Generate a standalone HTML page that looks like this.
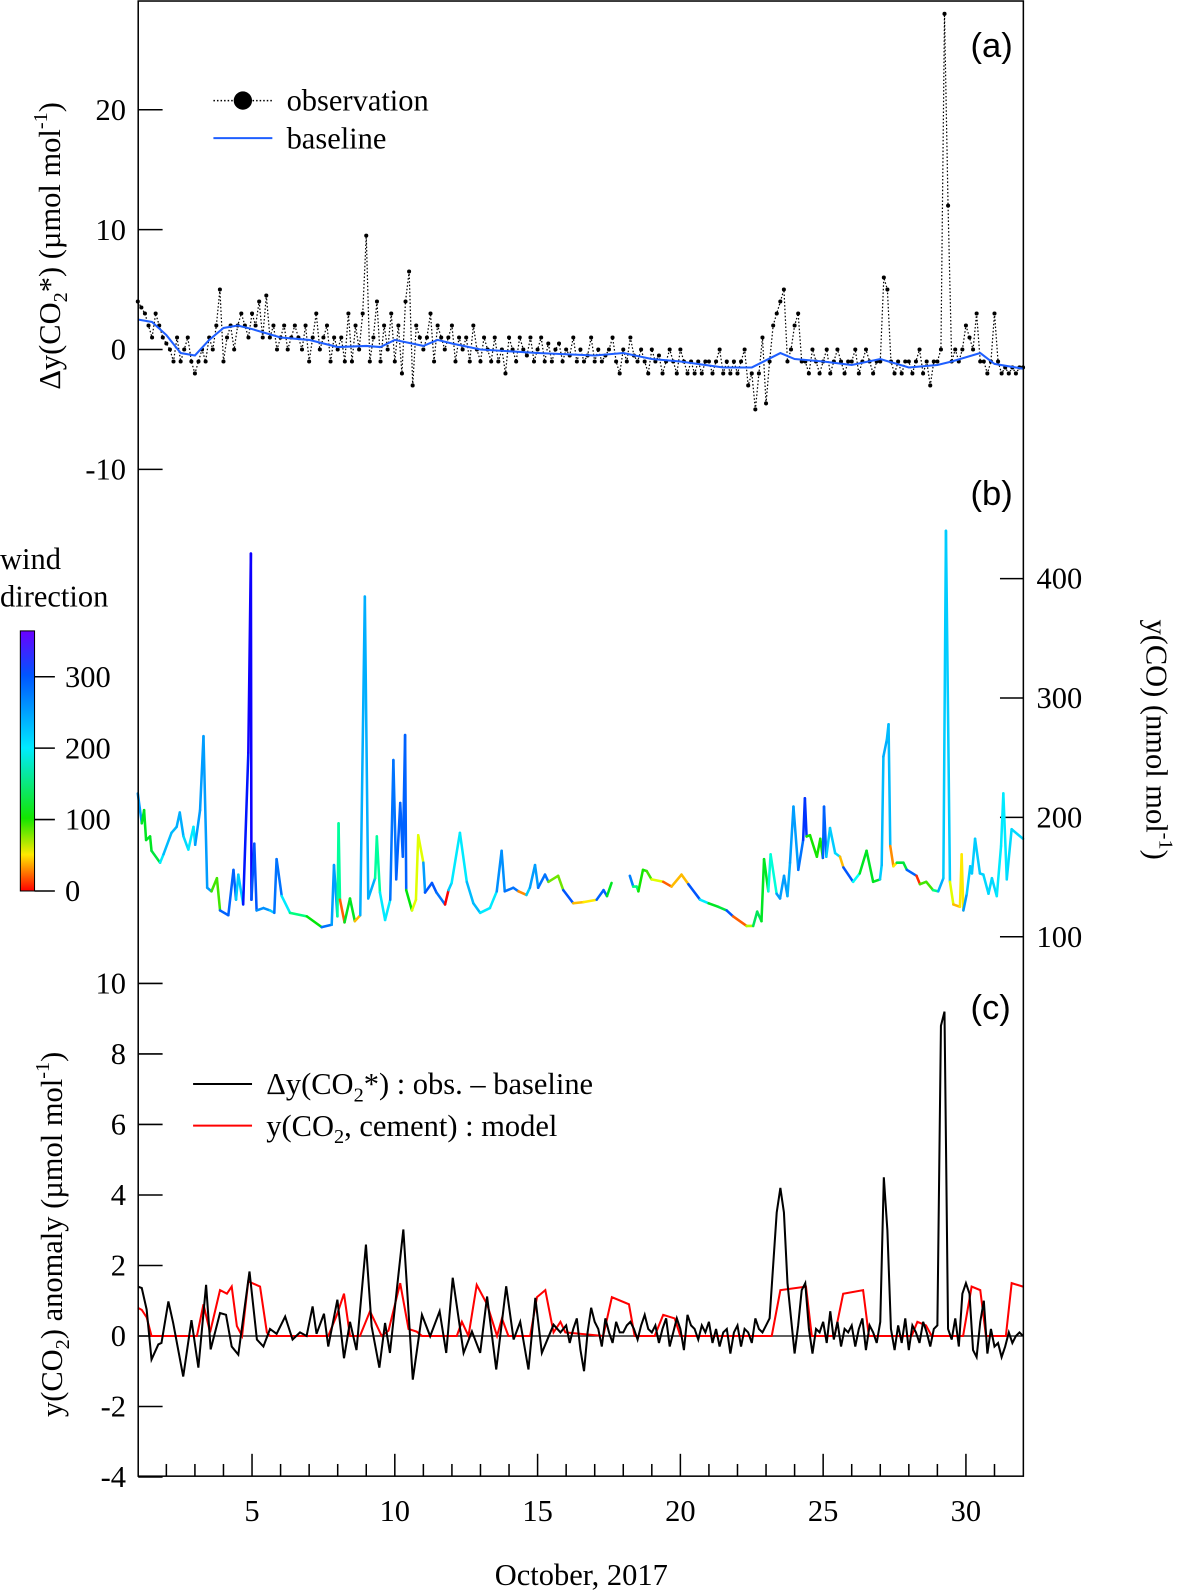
<!DOCTYPE html>
<html><head><meta charset="utf-8">
<style>
body{margin:0;background:#fff;}
svg{display:block;}
.t{font-family:"Liberation Serif",serif;font-size:30px;fill:#000;}
.s{font-family:"Liberation Sans",sans-serif;font-size:34px;fill:#000;}
</style></head>
<body>
<svg id="chart" width="1189" height="1593" viewBox="0 0 1170 1568" preserveAspectRatio="none" xmlns="http://www.w3.org/2000/svg">
<defs>
<linearGradient id="cbar" x1="0" y1="1" x2="0" y2="0">
<stop offset="0" stop-color="hsl(0,100%,50%)"/><stop offset="0.14" stop-color="hsl(55,100%,50%)"/>
<stop offset="0.28" stop-color="hsl(115,100%,45%)"/><stop offset="0.55" stop-color="hsl(185,100%,50%)"/>
<stop offset="0.83" stop-color="hsl(220,100%,50%)"/><stop offset="1" stop-color="hsl(265,100%,50%)"/>
</linearGradient>
</defs>
<g id="axes"></g>
<g id="marks"></g>
<rect x="136" y="1" width="871" height="1452" fill="none" stroke="#000" stroke-width="1.5"/>
<text class="s" x="955" y="56">(a)</text>
<text class="s" x="955" y="497">(b)</text>
<text class="s" x="955" y="1003">(c)</text>
<g>
<line x1="210" y1="99" x2="268" y2="99" stroke="#000" stroke-dasharray="1.5,2" stroke-width="1.5"/>
<circle cx="239" cy="99" r="9" fill="#000"/>
<text class="t" x="282" y="109">observation</text>
<line x1="210" y1="136" x2="268" y2="136" stroke="#1f5fff" stroke-width="2"/>
<text class="t" x="282" y="146">baseline</text>
</g>
<g>
<line x1="190" y1="1067" x2="248" y2="1067" stroke="#000" stroke-width="2"/>
<text class="t" x="262" y="1077">Δy(CO<tspan font-size="20" dy="7">2</tspan><tspan dy="-7">*) : obs. – baseline</tspan></text>
<line x1="190" y1="1108" x2="248" y2="1108" stroke="#f00" stroke-width="2"/>
<text class="t" x="262" y="1118">y(CO<tspan font-size="20" dy="7">2</tspan><tspan dy="-7">, cement) : model</tspan></text>
</g>
<text class="t" x="0" y="0" transform="translate(59,242) rotate(-90)" text-anchor="middle">Δy(CO<tspan font-size="20" dy="7">2</tspan><tspan dy="-7">*)  (µmol mol</tspan><tspan font-size="20" dy="-13">-1</tspan><tspan dy="13">)</tspan></text>
<text class="t" x="0" y="0" transform="translate(61,1215) rotate(-90)" text-anchor="middle">y(CO<tspan font-size="20" dy="7">2</tspan><tspan dy="-7">) anomaly  (µmol mol</tspan><tspan font-size="20" dy="-13">-1</tspan><tspan dy="13">)</tspan></text>
<text class="t" x="0" y="0" transform="translate(1128,728) rotate(90)" text-anchor="middle">y(CO)  (nmol mol<tspan font-size="20" dy="-13">-1</tspan><tspan dy="13">)</tspan></text>
<text class="t" x="572" y="1560" text-anchor="middle">October, 2017</text>
<text class="t" x="0" y="560">wind</text>
<text class="t" x="0" y="597">direction</text>
<rect x="20" y="621" width="14" height="256" fill="url(#cbar)" stroke="#000" stroke-width="1"/>
</svg>
<script>
// ---- data ----
const obsStart = 1, obsStep = 0.125;
const obsVals = [
 4,3.5,3,2,1,3,2,1, 0.5,0,-1,1,-1,0,1,-1, -2,-1,0,-1,1,0,2,5, -1,1,2,0,2,3,2,1,
 3,2,4,1,4.5,1,2,0, 1,2,0,1,2,1,0,2, -1,1,3,0,1,2,-1,1, 0,1,-1,3,-1,2,0,3,
 9.5,-1,1,4,-1,2,0,3, -1,2,-2,4,6.5,-3,2,1, 0,1,3,-1,2,1,0,1, 2,-1,1,0,1,-1,2,0,
 -1,1,0,-1,1,-1,0,-2, 1,0,-1,1,0,-0.5,1,-1, 0,1,-1,0.5,-1,0,0.5,-1, 0,-0.5,1,-1,0,-1,-0.5,1,
 -1,0,-1,-0.5,0,1,-1,-2, 0,-1,1,-0.5,-1,0,-1,-2, 0,-1,-0.5,-2,-1,0,-1,-2, 0,-1,-2,-1,-2,-1,-2,-1,
 -1,-2,-1,0,-2,-1,-2,-1, -2,-1,0,-3,-2,-5,-2,1, -4.5,-1,2,3,4,5,-1,0, 2,3,-1,-1,-2,0,-1,-2,
 -1,0,-2,-1,0,-1,-2,-1, -1,0,-2,-1,0,-1,-2,-1, -1,6,5,-1,-2,-1,-2,-1, -1,-2,-1,0,-2,-1,-3,-1,
 -1,0,28,12,-1,0,-1,0, 2,1,0,3,-1,-1,-2,-1, 3,-1,-2,-1.5,-2,-1.5,-2,-1.5, -1.5];
const baseDays = [1,1.5,2,2.5,3,3.5,4,4.5,5,6,7,8,9,9.5,10,11,11.5,12,13,15,17,18,19,20,21.5,22.5,23.5,24,25,26,27,28,29,29.5,30.5,31,32];
const baseVals = [2.5,2.3,1.2,-0.3,-0.5,0.8,1.8,2,1.7,1,0.8,0.2,0.3,0.2,0.8,0.3,0.8,0.5,0,-0.3,-0.5,-0.3,-0.8,-1,-1.5,-1.5,-0.3,-0.8,-1,-1.3,-0.8,-1.5,-1.3,-1,-0.3,-1.2,-1.6];
const coDays = [1.0,1.14,1.22,1.29,1.43,1.48,1.78,1.90,2.18,2.36,2.47,2.60,2.77,2.95,3.01,3.18,3.30,3.43,3.58,3.77,3.88,4.17,4.35,4.44,4.52,4.69,4.87,4.96,4.98,5.08,5.16,5.40,5.63,5.78,5.86,6.04,6.33,6.92,7.44,7.79,7.87,7.99,8.03,8.08,8.24,8.43,8.60,8.79,8.95,9.07,9.31,9.37,9.48,9.66,9.84,9.95,10.05,10.19,10.28,10.36,10.40,10.60,10.74,10.82,11.00,11.06,11.30,11.46,11.76,11.88,11.99,12.28,12.52,12.75,12.99,13.33,13.57,13.74,13.85,14.15,14.33,14.61,14.73,14.91,15.02,15.26,15.38,15.72,15.90,16.25,16.61,17.07,17.31,17.43,17.59];
const coVals = [220,195,206,181,184,172,162,169,187,192,204,184,173,192,177,206,268,141,138,149,122,118,156,131,152,127,254,421,131,178,122,124,122,120,165,134,120,117,108,110,160,117,195,131,112,132,113,118,385,132,149,184,137,114,131,248,148,212,167,269,139,122,131,185,162,137,145,137,127,139,145,187,146,128,120,124,138,172,138,141,138,135,141,160,141,152,146,151,139,128,129,131,139,134,145];
const coWd = [250,250,120,120,120,130,140,200,230,230,240,210,220,200,210,250,250,250,30,90,290,290,290,220,220,280,320,330,320,300,280,260,220,40,280,200,150,110,100,280,250,280,160,20,270,120,120,40,240,250,240,160,200,100,200,280,270,290,330,290,110,120,60,60,250,110,300,280,280,0,220,200,230,230,70,200,200,260,30,280,30,160,220,250,260,280,60,80,300,20,40,50,290,220,120];
const coDays2 = [18.23,18.35,18.47,18.53,18.69,18.82,18.99,19.40,19.69,20.04,20.28,20.69,20.99,21.33,21.62,21.85,22.32,22.55,22.69,22.84,22.93,23.08,23.16,23.37,23.49,23.63,23.75,23.84,23.96,24.13,24.30,24.36,24.42,24.54,24.78,24.90,24.99,25.03,25.11,25.24,25.42,25.59,25.71,26.05,26.28,26.52,26.75,26.99,27.05,27.11,27.23,27.29,27.35,27.46,27.58,27.81,27.93,28.27,28.39,28.61,28.85,29.03,29.21,29.3,29.44,29.56,29.79,29.85,29.91,30.03,30.15,30.21,30.32,30.49,30.61,30.79,30.91,31.08,31.23,31.31,31.43,31.6,32];
const coVals2 = [151,142,142,138,156,155,148,146,142,152,144,131,128,125,122,117,109,109,121,113,165,138,169,136,132,151,134,162,209,156,181,216,184,185,167,182,166,209,167,191,170,167,158,146,153,172,146,148,160,251,265,278,176,159,162,162,156,151,144,146,139,138,149,440,146,127,125,169,122,136,159,153,182,153,152,136,149,134,176,220,148,190,182];
const coWd2 = [270,280,150,100,100,90,60,20,320,40,300,200,120,130,300,20,60,70,140,120,120,100,180,250,290,250,290,240,250,250,280,310,90,100,120,100,200,290,230,220,210,40,300,290,190,120,110,120,220,230,240,230,30,10,50,130,290,10,100,90,150,200,240,220,60,40,30,50,270,250,220,220,220,220,210,210,210,230,200,200,220,210,210];
const anomDays = [1.0,1.14,1.31,1.48,1.72,1.83,2.07,2.24,2.59,2.88,3.12,3.39,3.55,3.88,4.09,4.29,4.52,4.91,5.17,5.40,5.63,5.86,6.16,6.42,6.68,6.91,7.12,7.26,7.52,7.67,7.99,8.22,8.43,8.66,8.99,9.19,9.46,9.66,9.83,10.30,10.63,10.95,11.24,11.57,11.80,12.03,12.41,12.70,12.99,13.23,13.55,13.90,14.16,14.39,14.68,14.92,15.15,15.56,15.8];
const anomVals = [1.4,1.36,0.75,-0.67,-0.24,-0.2,0.98,0.37,-1.15,0.45,-0.9,1.45,-0.38,0.65,0.6,-0.3,-0.53,1.83,-0.1,-0.3,0.2,0.06,0.55,-0.1,0.1,0,0.84,0.06,0.63,-0.3,1.03,-0.63,0.4,-0.4,2.59,0.27,-0.9,0.37,-0.48,3.02,-1.24,0.6,-0.01,0.7,-0.48,1.65,-0.48,0.13,-0.48,1.12,-0.95,1.41,-0.1,0.4,-0.95,1.08,-0.48,0.32,0.1];
const anom2Start = 16, anom2Step = 0.125;
const anom2Vals = [
 0.3,-0.2,0.2,0.5,-0.4,-1,0.1,0.8, 0.4,0.2,-0.3,0.5,0.1,-0.2,0.4,0.1, 0.1,0.3,0.4,0.2,-0.1,0.3,0.6,0.2,
 0.1,0.3,-0.2,0.2,0.5,-0.3,0.1,0.5, 0.2,-0.4,0.6,0.3,0.2,-0.1,0.3,0.1, 0.4,-0.2,0.2,-0.3,0.1,0.2,-0.5,0.1,
 0.3,-0.3,0.2,0.1,-0.2,0.5,0.2,0.1, 0.3,0.5,2,3.5,4.2,3.5,1.5,0.5, -0.5,0.3,1.3,1.5,0.2,-0.5,0.2,0.1,
 0.4,-0.2,0.7,-0.1,0.4,-0.3,0.2,0.1, 0.3,-0.3,0.2,0.5,-0.4,0.3,0.1,-0.2, 0.4,4.5,3,0.2,-0.4,0.3,-0.2,0.5,
 -0.4,0.3,0.1,-0.2,0.4,0.1,-0.3,0.2, 0.3,8.8,9.2,0.2,-0.1,0.5,-0.3,1.2, 1.5,1.2,-0.4,-0.6,0.4,1,-0.5,0.2,
 -0.3,-0.2,-0.6,-0.3,0.1,-0.2,0,0.1, 0];
const cementDays = [1,1.14,1.31,1.48,3.07,3.30,3.53,3.88,4.12,4.29,4.47,4.65,4.87,5.28,5.52,5.63,7.67,7.97,8.22,8.43,8.78,9.13,9.54,9.78,10.19,10.48,10.77,10.95,12.17,12.35,12.58,12.87,13.23,13.58,13.75,13.98,14.74,14.98,15.27,15.56,15.8,15.97,17.3,17.6,18.2,18.4,19.1,19.4,19.8,20,23.2,23.5,24.4,24.6,25.4,25.7,26.4,26.6,28.1,28.3,28.6,28.8,29.9,30.2,30.5,30.7,31.4,31.6,32];
const cementVals = [0.8,0.74,0.53,0,0,0.9,0.1,1.3,1.2,1.4,0.28,0,1.55,1.4,0.1,0,0,0.6,1.2,0,0,0.7,0,0.15,1.5,0.2,0.12,0,0,0.4,0,1.45,0.9,0,0.5,0,0,1.1,1.3,0.1,0.4,0.1,0,1.1,0.9,0,0,0.6,0.5,0,0,1.3,1.4,0,0,1.2,1.3,0,0,0.4,0.3,0,0,1.4,1.3,0,0,1.5,1.4];
const xTicks = [5,10,15,20,25,30];
const aTicks = [20,10,0,-10];
const bTicks = [400,300,200,100];
const cTicks = [10,8,6,4,2,0,-2,-4];
const cbTicks = [300,200,100,0];

// ---- scales ----
const X = d => 248 + (d - 5) * 28.1;
const YA = v => 344 - 11.8 * v;
const YB = v => 922 - 1.175 * (v - 100);
const YC = v => 1315 - 34.7 * v;
const YCB = v => 877 - 0.703 * v;
const NS = 'http://www.w3.org/2000/svg';
const axes = document.getElementById('axes'), marks = document.getElementById('marks');
function mk(tag, attrs, parent) { const e = document.createElementNS(NS, tag); for (const k in attrs) e.setAttribute(k, attrs[k]); parent.appendChild(e); return e; }
function txt(x, y, s, anchor, parent) { const e = mk('text', {x: x, y: y, 'text-anchor': anchor, class: 't'}, parent); e.textContent = s; return e; }

for (let d = 2; d <= 31; d++) {
  const major = xTicks.includes(d);
  const t = mk('line', {x1: X(d), x2: X(d), y1: 1453, y2: 1453 - (major ? 22 : 12), stroke: '#000', 'stroke-width': 1.5}, axes);
  
  
}
xTicks.forEach(d => { const l = txt(X(d), 1497, String(d), 'middle', axes);
  
   });
aTicks.forEach(v => { mk('line', {x1: 136, x2: 160, y1: YA(v), y2: YA(v), stroke: '#000', 'stroke-width': 1.5}, axes);
  const l = txt(124, YA(v) + 10, String(v), 'end', axes);
  
   });
bTicks.forEach(v => { mk('line', {x1: 984, x2: 1007, y1: YB(v), y2: YB(v), stroke: '#000', 'stroke-width': 1.5}, axes);
  const l = txt(1020, YB(v) + 10, String(v), 'start', axes);
  
   });
cTicks.forEach(v => { mk('line', {x1: 136, x2: 160, y1: YC(v), y2: YC(v), stroke: '#000', 'stroke-width': 1.5}, axes);
  const l = txt(124, YC(v) + 10, String(v), 'end', axes);
  
   });
cbTicks.forEach(v => { mk('line', {x1: 34, x2: 54, y1: YCB(v), y2: YCB(v), stroke: '#000', 'stroke-width': 1.5}, axes);
  const l = txt(64, YCB(v) + 10, String(v), 'start', axes);
  
   });
const zl = mk('line', {x1: 136, x2: 1007, y1: YC(0), y2: YC(0), stroke: '#000', 'stroke-width': 1.2}, axes);



function pts(days, vals, Y) { return vals.map((v, i) => X(days[i]).toFixed(1) + ',' + Y(v).toFixed(1)).join(' '); }
// panel a
const obsDays = obsVals.map((v, i) => obsStart + i * obsStep);
const ol = mk('polyline', {points: pts(obsDays, obsVals, YA), fill: 'none', stroke: '#000', 'stroke-width': 1.2, 'stroke-dasharray': '1.5,2'}, marks);


obsVals.forEach((v, i) => { const c = mk('circle', {cx: X(obsDays[i]), cy: YA(v), r: 2, fill: '#000'}, marks);
  
   });
const bl = mk('polyline', {points: pts(baseDays, baseVals, YA), fill: 'none', stroke: '#1f5fff', 'stroke-width': 2}, marks);


// panel b
const hueStops = [[0,0],[50,55],[100,115],[200,185],[300,220],[360,265]];
function wdColor(w) {
  let h = 265;
  for (let i = 0; i < hueStops.length - 1; i++) {
    const a = hueStops[i], b = hueStops[i + 1];
    if (w >= a[0] && w <= b[0]) { h = a[1] + (b[1] - a[1]) * (w - a[0]) / (b[0] - a[0]); break; }
  }
  return 'hsl(' + h.toFixed(0) + ',100%,' + (h > 90 && h < 150 ? 45 : 50) + '%)';
}
function coSeg(days, vals, wd) {
  for (let i = 0; i < vals.length - 1; i++) {
    const k = vals[i] > vals[i + 1] ? i : i + 1;
    const s = mk('line', {x1: X(days[i]), y1: YB(vals[i]), x2: X(days[i + 1]), y2: YB(vals[i + 1]), stroke: wdColor(wd[k]), 'stroke-width': 2.5, 'stroke-linecap': 'round'}, marks);
    
    
  }
}
coSeg(coDays, coVals, coWd);
coSeg(coDays2, coVals2, coWd2);
// panel c
const anom2Days = anom2Vals.map((v, i) => anom2Start + i * anom2Step);
const allDays = anomDays.concat(anom2Days), allVals = anomVals.concat(anom2Vals);
const cl = mk('polyline', {points: pts(cementDays, cementVals, YC), fill: 'none', stroke: '#f00', 'stroke-width': 2}, marks);


const al = mk('polyline', {points: pts(allDays, allVals, YC), fill: 'none', stroke: '#000', 'stroke-width': 2}, marks);


</script>
</body></html>
